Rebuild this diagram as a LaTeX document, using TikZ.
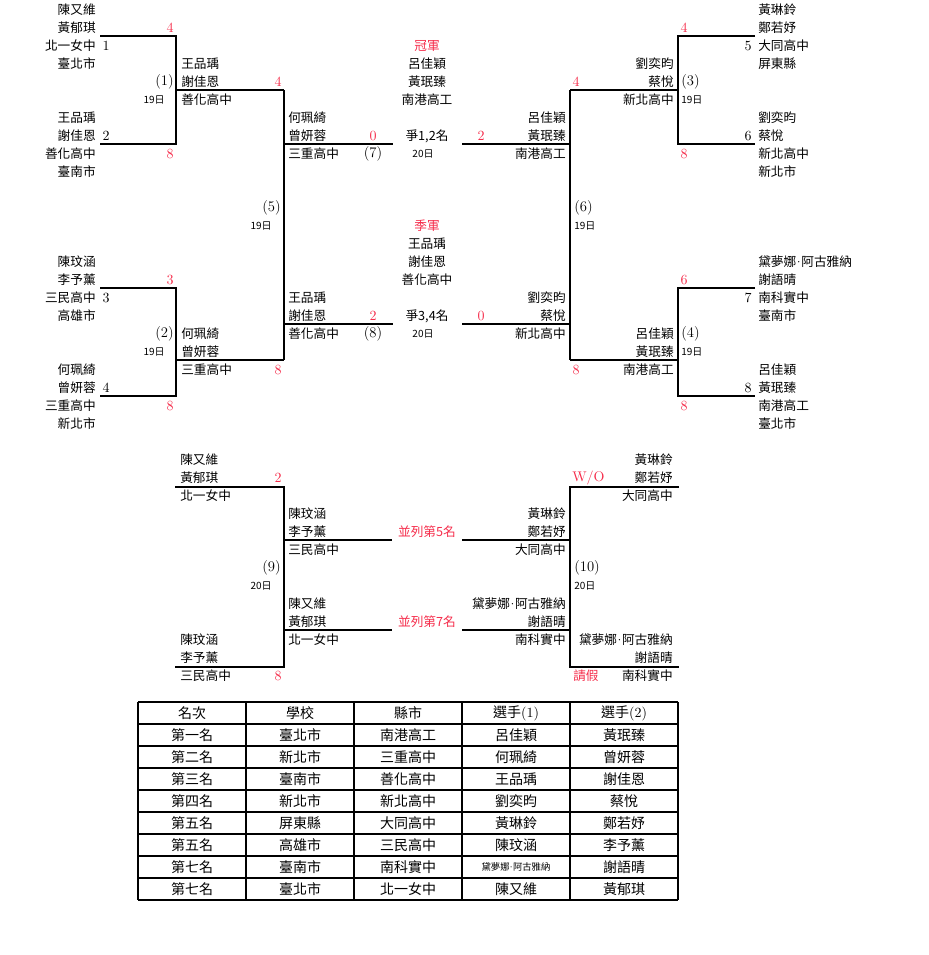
\documentclass[tikz,border=0pt]{standalone}
\usepackage{fontspec}
\newfontfamily\cjk{Noto Sans CJK TC}
\usetikzlibrary{positioning}
\definecolor{scorered}{RGB}{245,45,75}
\newcommand{\ndot}{\kern-1.8pt{\rmfamily ·}\kern-1.8pt}

\begin{document}
\begin{tikzpicture}[x=0.75pt, y=-0.75pt,
	lname/.style={anchor=east, inner sep=0pt, font=\fontsize{9.5}{11}\cjk},
	rname/.style={anchor=west, inner sep=0pt, font=\fontsize{9.5}{11}\cjk},
	cname/.style={inner sep=0pt, font=\fontsize{9.5}{11}\cjk},
	score/.style={inner sep=0pt, text=scorered, font=\fontsize{10.5}{11}\selectfont},
	seed/.style={inner sep=0pt, font=\fontsize{10.5}{11}\selectfont},
	rnd/.style={inner sep=0pt, font=\fontsize{11}{12}\selectfont},
	day/.style={inner sep=0pt, font=\fontsize{7.5}{8}\cjk},
	bracket/.style={line width=0.9pt},
	grid/.style={line width=0.8pt},
	cell/.style={inner sep=0pt, font=\fontsize{10.5}{12}\cjk}]
		\useasboundingbox (0,0) rectangle (928,955);
		% brackets, left half
		\draw [bracket] (100,36)--(176,36)--(176,144)--(100,144);
		\draw [bracket] (176,90)--(284,90);
		\draw [bracket] (100,288)--(176,288)--(176,396)--(100,396);
		\draw [bracket] (176,360)--(284,360);
		\draw [bracket] (284,90)--(284,360);
		\draw [bracket] (284,144)--(393,144);
		\draw [bracket] (284,324)--(393,324);
		% brackets, right half
		\draw [bracket] (462,144)--(570,144);
		\draw [bracket] (462,324)--(570,324);
		\draw [bracket] (570,90)--(570,360);
		\draw [bracket] (570,90)--(678,90);
		\draw [bracket] (570,360)--(678,360);
		\draw [bracket] (755,36)--(678,36)--(678,144)--(755,144);
		\draw [bracket] (755,288)--(678,288)--(678,396)--(755,396);
		% brackets, 5-8
		\draw [bracket] (175,487)--(284,487)--(284,667)--(175,667);
		\draw [bracket] (284,540)--(392,540);
		\draw [bracket] (284,630)--(392,630);
		\draw [bracket] (462,540)--(570,540);
		\draw [bracket] (462,630)--(570,630);
		\draw [bracket] (679,487)--(570,487)--(570,667)--(679,667);

		% match (1)
		\foreach \t [count=\k] in {陳又維,黃郁琪,北一女中,臺北市}
			\node [lname] (ma\k) at (96,{-8+18*\k}) {\t};
		\foreach \t [count=\k] in {王品瑀,謝佳恩,善化高中,臺南市}
			\node [lname] (mb\k) at (96,{100+18*\k}) {\t};
		\node [seed] (sd1) at (106,46) {1};
		\node [seed] (sd2) at (106,136) {2};
		\node [score] (sa) at (170,28) {4};
		\node [score] (sb) at (170,154) {8};
		\node [rnd, anchor=east] (r1) at (174,82) {(1)};
		\node [day, anchor=east] (d1) at (165,100) {19日};
		\foreach \t [count=\k] in {王品瑀,謝佳恩,善化高中}
			\node [rname] (wa\k) at (181,{46+18*\k}) {\t};
		\node [score] (swa) at (278,82) {4};

		% match (2)
		\foreach \t [count=\k] in {陳玟涵,李予薰,三民高中,高雄市}
			\node [lname] (mc\k) at (96,{244+18*\k}) {\t};
		\foreach \t [count=\k] in {何珮綺,曾妍蓉,三重高中,新北市}
			\node [lname] (md\k) at (96,{352+18*\k}) {\t};
		\node [seed] (sd3) at (106,298) {3};
		\node [seed] (sd4) at (106,388) {4};
		\node [score] (sc) at (170,280) {3};
		\node [score] (sdd) at (170,406) {8};
		\node [rnd, anchor=east] (r2) at (174,334) {(2)};
		\node [day, anchor=east] (d2) at (165,352) {19日};
		\foreach \t [count=\k] in {何珮綺,曾妍蓉,三重高中}
			\node [rname] (wb\k) at (181,{316+18*\k}) {\t};
		\node [score] (swb) at (278,370) {8};

		% match (5)
		\node [rnd, anchor=east] (r5) at (281,208) {(5)};
		\node [day, anchor=east] (d5) at (272,226) {19日};
		\foreach \t [count=\k] in {何珮綺,曾妍蓉,三重高中}
			\node [rname] (fa\k) at (288,{100+18*\k}) {\t};
		\node [score] (sfa) at (373,136) {0};
		\node [rnd] (r7) at (373,154) {(7)};
		\foreach \t [count=\k] in {王品瑀,謝佳恩,善化高中}
			\node [rname] (ta\k) at (288,{280+18*\k}) {\t};
		\node [score] (sta) at (373,316) {2};
		\node [rnd] (r8) at (373,334) {(8)};

		% centre
		\node [cname, text=scorered] (champ) at (427,46) {冠軍};
		\foreach \t [count=\k] in {呂佳穎,黃珉臻,南港高工}
			\node [cname] (ch\k) at (427,{46+18*\k}) {\t};
		\node [cname] (fin) at (427,136) {爭1,2名};
		\node [day] (dfin) at (423,154) {20日};
		\node [cname, text=scorered] (third) at (427,226) {季軍};
		\foreach \t [count=\k] in {王品瑀,謝佳恩,善化高中}
			\node [cname] (th\k) at (427,{226+18*\k}) {\t};
		\node [cname] (bronze) at (427,316) {爭3,4名};
		\node [day] (dbr) at (423,334) {20日};

		% match (6)
		\node [score] (sfb) at (481,136) {2};
		\foreach \t [count=\k] in {呂佳穎,黃珉臻,南港高工}
			\node [lname] (fb\k) at (566,{100+18*\k}) {\t};
		\node [score] (stb) at (481,316) {0};
		\foreach \t [count=\k] in {劉奕昀,蔡悅,新北高中}
			\node [lname] (tb\k) at (566,{280+18*\k}) {\t};
		\node [rnd, anchor=west] (r6) at (574,208) {(6)};
		\node [day, anchor=west] (d6) at (574,226) {19日};
		\node [score] (swc) at (576,82) {4};
		\node [score] (swd) at (576,370) {8};
		\foreach \t [count=\k] in {劉奕昀,蔡悅,新北高中}
			\node [lname] (wc\k) at (674,{46+18*\k}) {\t};
		\foreach \t [count=\k] in {呂佳穎,黃珉臻,南港高工}
			\node [lname] (wd\k) at (674,{316+18*\k}) {\t};

		% match (3)
		\node [rnd, anchor=west] (r3) at (681,82) {(3)};
		\node [day, anchor=west] (d3) at (681,100) {19日};
		\node [score] (se) at (684,28) {4};
		\node [score] (sf) at (684,154) {8};
		\node [seed] (sd5) at (748,46) {5};
		\node [seed] (sd6) at (748,136) {6};
		\foreach \t [count=\k] in {黃琳鈴,鄭若妤,大同高中,屏東縣}
			\node [rname] (me\k) at (758,{-8+18*\k}) {\t};
		\foreach \t [count=\k] in {劉奕昀,蔡悅,新北高中,新北市}
			\node [rname] (mf\k) at (758,{100+18*\k}) {\t};

		% match (4)
		\node [rnd, anchor=west] (r4) at (681,334) {(4)};
		\node [day, anchor=west] (d4) at (681,352) {19日};
		\node [score] (sg) at (684,280) {6};
		\node [score] (sh) at (684,406) {8};
		\node [seed] (sd7) at (748,298) {7};
		\node [seed] (sd8) at (748,388) {8};
		\foreach \t [count=\k] in {黛夢娜\ndot 阿古雅納,謝語晴,南科實中,臺南市}
			\node [rname] (mg\k) at (758,{244+18*\k}) {\t};
		\foreach \t [count=\k] in {呂佳穎,黃珉臻,南港高工,臺北市}
			\node [rname] (mh\k) at (758,{352+18*\k}) {\t};

		% match (9)
		\foreach \t [count=\k] in {陳又維,黃郁琪,北一女中}
			\node [rname] (na\k) at (180,{442+18*\k}) {\t};
		\foreach \t [count=\k] in {陳玟涵,李予薰,三民高中}
			\node [rname] (nb\k) at (180,{622+18*\k}) {\t};
		\node [score] (sna) at (278,478) {2};
		\node [score] (snb) at (278,676) {8};
		\node [rnd, anchor=east] (r9) at (281,568) {(9)};
		\node [day, anchor=east] (d9) at (272,586) {20日};
		\foreach \t [count=\k] in {陳玟涵,李予薰,三民高中}
			\node [rname] (fc\k) at (288,{496+18*\k}) {\t};
		\foreach \t [count=\k] in {陳又維,黃郁琪,北一女中}
			\node [rname] (fd\k) at (288,{586+18*\k}) {\t};
		\node [cname, text=scorered] (fifth) at (427,532) {並列第5名};
		\node [cname, text=scorered] (seventh) at (427,622) {並列第7名};

		% match (10)
		\foreach \t [count=\k] in {黃琳鈴,鄭若妤,大同高中}
			\node [lname] (fe\k) at (566,{496+18*\k}) {\t};
		\foreach \t [count=\k] in {黛夢娜\ndot 阿古雅納,謝語晴,南科實中}
			\node [lname] (ff\k) at (566,{586+18*\k}) {\t};
		\foreach \t [count=\k] in {黃琳鈴,鄭若妤,大同高中}
			\node [lname] (nc\k) at (673,{442+18*\k}) {\t};
		\foreach \t [count=\k] in {黛夢娜\ndot 阿古雅納,謝語晴,南科實中}
			\node [lname] (nd\k) at (673,{622+18*\k}) {\t};
		\node [score, anchor=west] (wo) at (572,478) {W/O};
		\node [rname, text=scorered] (leave) at (573,676) {請假};
		\node [rnd, anchor=west] (r10) at (574,568) {(10)};
		\node [day, anchor=west] (d10) at (574,586) {20日};

		% final standings
		\foreach \r in {0,...,9}
			\draw [grid] (138,{702+22*\r})--(678,{702+22*\r});
		\foreach \c in {138,246,354,462,570,678}
			\draw [grid] (\c,702)--(\c,900);
		\foreach \a/\b/\c/\d/\e [count=\r] in {
				名次/學校/縣市/選手{\rmfamily (1)}/選手{\rmfamily (2)},
				第一名/臺北市/南港高工/呂佳穎/黃珉臻,
				第二名/新北市/三重高中/何珮綺/曾妍蓉,
				第三名/臺南市/善化高中/王品瑀/謝佳恩,
				第四名/新北市/新北高中/劉奕昀/蔡悅,
				第五名/屏東縣/大同高中/黃琳鈴/鄭若妤,
				第五名/高雄市/三民高中/陳玟涵/李予薰,
				第七名/臺南市/南科實中/{\fontsize{7}{8}\selectfont 黛夢娜\ndot 阿古雅納}/謝語晴,
				第七名/臺北市/北一女中/陳又維/黃郁琪}{
			\node [cell] (t\r-1) at (192,{691+22*\r}) {\a};
			\node [cell] (t\r-2) at (300,{691+22*\r}) {\b};
			\node [cell] (t\r-3) at (408,{691+22*\r}) {\c};
			\node [cell] (t\r-4) at (516,{691+22*\r}) {\d};
			\node [cell] (t\r-5) at (624,{691+22*\r}) {\e};
		}
	\end{tikzpicture}
\end{document}
